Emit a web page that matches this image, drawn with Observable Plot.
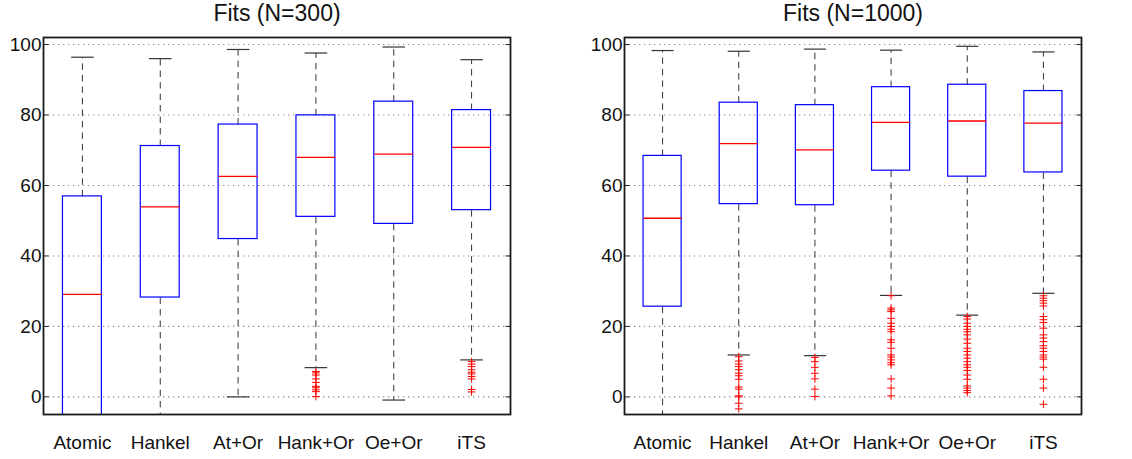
<!DOCTYPE html>
<html>
<head>
<meta charset="utf-8">
<script src="https://cdn.jsdelivr.net/npm/d3@7"></script>
<script src="https://cdn.jsdelivr.net/npm/@observablehq/plot@0.6"></script>
<style>
  html, body { margin: 0; padding: 0; background: #fff; }
  #wrap { position: relative; width: 1132px; height: 459px; }
  #left { position: absolute; left: 0; top: 0; }
  #right { position: absolute; left: 560px; top: 0; }
</style>
</head>
<body>
<div id="wrap"><div id="left"></div><div id="right"></div></div>
<script>
const categories = ["Atomic", "Hankel", "At+Or", "Hank+Or", "Oe+Or", "iTS"];
const yTicks = [0, 20, 40, 60, 80, 100];
const titles = ["Fits (N=300)", "Fits (N=1000)"];

// N=300
const low300  = [-12, -12, 0.0, 8.3, -0.9, 10.5];
const q1_300  = [-12, 28.2, 44.8, 51.1, 49.1, 53.0];
const med300  = [29.1, 53.9, 62.6, 68.0, 68.9, 70.8];
const q3_300  = [56.9, 71.2, 77.3, 79.9, 83.8, 81.4];
const high300 = [96.4, 96.0, 98.6, 97.6, 99.3, 95.7];
const out300 = [
  [], [], [],
  [7.2, 6.8, 6.2, 5.1, 4.1, 3.0, 2.6, 2.0, 1.5, 0.1],
  [],
  [10.0, 9.3, 8.6, 7.7, 7.0, 6.5, 5.8, 5.1, 2.1, 1.4]
];

// N=1000
const low1000  = [-12, 11.9, 11.7, 28.8, 23.2, 29.4];
const q1_1000  = [25.6, 54.7, 54.4, 64.2, 62.5, 63.7];
const med1000  = [50.7, 71.9, 70.1, 77.9, 78.3, 77.7];
const q3_1000  = [68.4, 83.5, 82.8, 87.9, 88.6, 86.8];
const high1000 = [98.3, 98.1, 98.7, 98.4, 99.5, 97.9];
const out1000 = [
  [],
  [11.4, 10.2, 9.3, 8.6, 7.7, 6.7, 6.0, 5.0, 2.8, 2.2, 0.3, 0.0, -1.8, -3.4],
  [11.2, 10.0, 8.4, 6.7, 5.1, 2.2, 0.1],
  [28.7, 25.2, 24.7, 24.2, 22.3, 20.9, 20.0, 19.2, 18.5, 16.2, 15.5, 13.8, 11.9, 11.3, 10.5, 9.7, 9.1, 5.1, 2.5, 0.3],
  [22.8, 22.1, 20.9, 20.0, 19.2, 18.5, 17.6, 16.4, 15.2, 13.8, 12.9, 11.9, 11.0, 10.0, 9.1, 8.4, 7.5, 6.2, 5.0, 3.1, 2.5, 1.8, 1.2],
  [28.7, 28.0, 27.3, 26.6, 25.8, 22.8, 21.9, 21.1, 19.5, 17.6, 16.7, 15.7, 14.5, 13.8, 12.9, 11.9, 11.3, 10.7, 8.4, 5.0, 2.5, -2.1]
];

function panel(title, low, q1, med, q3, high, outs, width, mLeft, mRight) {
  const rows = categories.map((c, i) => ({
    x: i + 1, name: c, low: low[i], q1: q1[i], med: med[i], q3: q3[i], high: high[i]
  }));
  const pts = outs.flatMap((arr, i) => arr.map(v => ({x: i + 1, v})));
  const tickRows = yTicks.map(t => ({t}));
  const frameW = width - mLeft - mRight;
  const tickLen = 5 * 6 / frameW; // inward tick length in x units
  return Plot.plot({
    width, height: 459,
    marginLeft: mLeft, marginRight: mRight, marginTop: 37, marginBottom: 45,
    style: {fontFamily: "'Liberation Sans', Arial, Helvetica, sans-serif", fontSize: "19px", color: "#111", background: "#fff"},
    x: {domain: [0.5, 6.5], axis: null},
    y: {domain: [-5, 102], axis: null},
    marks: [
      Plot.ruleY(yTicks, {stroke: "#8a8a8a", strokeDasharray: "1.3,3.7", strokeWidth: 1.1}),
      Plot.link(tickRows, {x1: 0.5, x2: 0.5 + tickLen, y1: "t", y2: "t", stroke: "#222", strokeWidth: 1}),
      Plot.link(tickRows, {x1: 6.5 - tickLen, x2: 6.5, y1: "t", y2: "t", stroke: "#222", strokeWidth: 1}),
      Plot.link(rows, {x1: "x", x2: "x", y1: "q3", y2: "high", stroke: "#333", strokeDasharray: "6.5,5", strokeWidth: 1, clip: true}),
      Plot.link(rows, {x1: "x", x2: "x", y1: "q1", y2: "low", stroke: "#333", strokeDasharray: "6.5,5", strokeWidth: 1, clip: true}),
      Plot.link(rows, {x1: d => d.x - 0.145, x2: d => d.x + 0.145, y1: "high", y2: "high", stroke: "#333", strokeWidth: 1.2, clip: true}),
      Plot.link(rows, {x1: d => d.x - 0.145, x2: d => d.x + 0.145, y1: "low", y2: "low", stroke: "#333", strokeWidth: 1.2, clip: true}),
      Plot.rect(rows, {x1: d => d.x - 0.25, x2: d => d.x + 0.25, y1: "q1", y2: "q3", fill: "none", stroke: "#0000ff", strokeWidth: 1.2, clip: true}),
      Plot.link(rows, {x1: d => d.x - 0.25, x2: d => d.x + 0.25, y1: "med", y2: "med", stroke: "#ff0000", strokeWidth: 1.3, clip: true}),
      Plot.dot(pts, {x: "x", y: "v", symbol: "plus", r: 2.6, stroke: "#ff0000", strokeWidth: 1, clip: true}),
      Plot.frame({stroke: "#1a1a1a", strokeWidth: 1.8}),
      Plot.axisX([1, 2, 3, 4, 5, 6], {tickSize: 0, tickPadding: 21, tickFormat: d => categories[d - 1], fontSize: 19, label: null}),
      Plot.axisY(yTicks, {tickSize: 0, tickPadding: 2, fontSize: 19, label: null}),
      Plot.text([title], {frameAnchor: "top", dy: -24, fontSize: 23, lineAnchor: "middle", fill: "#111"})
    ]
  });
}

document.getElementById("left").appendChild(
  panel(titles[0], low300, q1_300, med300, q3_300, high300, out300, 560, 43, 50));
document.getElementById("right").appendChild(
  panel(titles[1], low1000, q1_1000, med1000, q3_1000, high1000, out1000, 572, 64, 51));
</script>
</body>
</html>
